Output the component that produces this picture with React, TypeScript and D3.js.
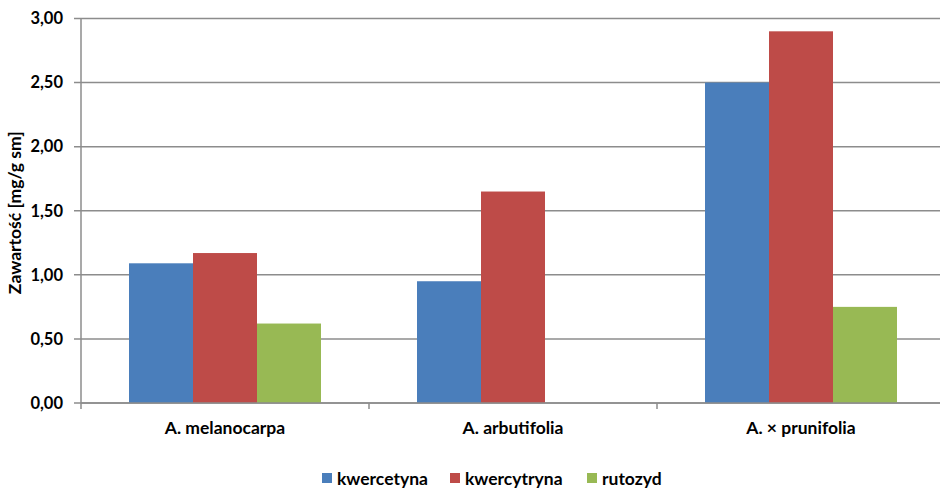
import React from "react";
import * as d3 from "d3";

const categories = ["A. melanocarpa", "A. arbutifolia", "A. × prunifolia"];
const seriesNames = ["kwercetyna", "kwercytryna", "rutozyd"];
const kwercetyna = [1.09, 0.95, 2.5];
const kwercytryna = [1.17, 1.65, 2.9];
const rutozyd = [0.62, 0, 0.75];
const colors = ["#4a7ebb", "#be4b48", "#98b954"];
const yTicks = [0, 0.5, 1, 1.5, 2, 2.5, 3];
const yTitle = "Zawartość [mg/g sm]";

const W = 940, H = 488;
const left = 81, right = 945, top = 18.5, bottom = 403;
const font = "Lato, 'Open Sans', sans-serif";

export default function App() {
  const series = [kwercetyna, kwercytryna, rutozyd];
  const x0 = d3.scaleBand().domain(categories).range([left, right]).paddingInner(0).paddingOuter(0);
  const x1 = d3.scaleBand().domain(seriesNames).range([48, x0.bandwidth() - 48]);
  const y = d3.scaleLinear().domain([0, 3]).range([bottom, top]);
  const fmt = (v: number) => v.toFixed(2).replace(".", ",");
  const catTicks = [left, ...categories.map((c) => (x0(c) as number) + x0.bandwidth())];
  const legendX = [322, 450, 587];
  return (
    <svg width={W} height={H} style={{ position: "absolute", left: 0, top: 0, background: "#fff" }}>
      {yTicks.map((t) => (
        <g key={t}>
          <line x1={74} x2={right} y1={y(t)} y2={y(t)} stroke="#8c8c8c" strokeWidth={1.5} />
          <text x={63} y={y(t)} dy="0.35em" textAnchor="end" fontFamily={font} fontWeight={700} fontSize={16.5} fill="#000">
            {fmt(t)}
          </text>
        </g>
      ))}
      {categories.map((c, ci) =>
        series.map((s, si) =>
          s[ci] > 0 ? (
            <rect
              key={c + si}
              x={(x0(c) as number) + (x1(seriesNames[si]) as number)}
              y={y(s[ci])}
              width={x1.bandwidth()}
              height={bottom - y(s[ci])}
              fill={colors[si]}
            />
          ) : null
        )
      )}
      <line x1={left} x2={left} y1={top} y2={bottom} stroke="#8c8c8c" strokeWidth={1.5} />
      <line x1={left} x2={right} y1={bottom} y2={bottom} stroke="#8c8c8c" strokeWidth={1.5} />
      {catTicks.map((tx, i) => (
        <line key={i} x1={tx} x2={tx} y1={bottom} y2={bottom + 6} stroke="#8c8c8c" strokeWidth={1.5} />
      ))}
      {categories.map((c) => (
        <text key={c} x={(x0(c) as number) + x0.bandwidth() / 2} y={434} textAnchor="middle" fontFamily={font} fontWeight={700} fontSize={17.5} fill="#000">
          {c}
        </text>
      ))}
      <text transform={`translate(21,${(top + bottom) / 2 + 2}) rotate(-90)`} textAnchor="middle" fontFamily={font} fontWeight={700} fontSize={17.5} fill="#000">
        {yTitle}
      </text>
      {seriesNames.map((n, i) => (
        <g key={n}>
          <rect x={legendX[i]} y={473} width={10} height={10} fill={colors[i]} />
          <text x={legendX[i] + 15} y={484.5} fontFamily={font} fontWeight={700} fontSize={17.5} fill="#000">
            {n}
          </text>
        </g>
      ))}
    </svg>
  );
}
